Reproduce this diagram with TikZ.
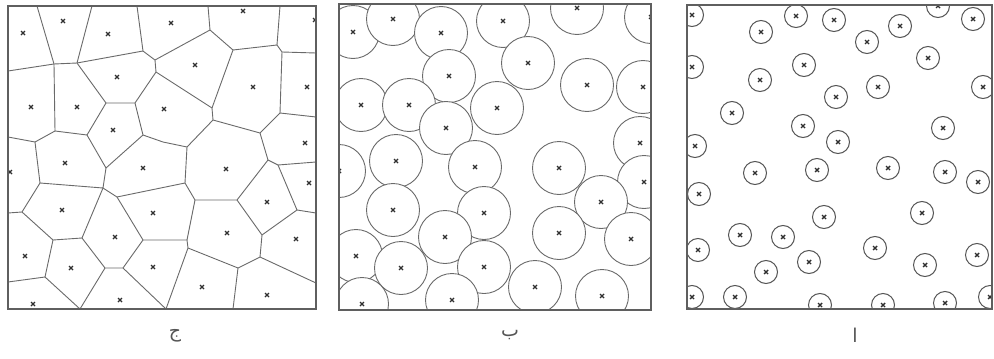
\documentclass[tikz,border=0pt]{standalone}
\usepackage{fontspec}
\newfontfamily\arabicfont[Script=Arabic]{DejaVu Sans}
\TeXXeTstate=1
\begin{document}
\begin{tikzpicture}[x=1pt,y=-1pt]
\definecolor{inkgray}{HTML}{6A6A6A}
\definecolor{dotgray}{HTML}{303030}
\tikzset{
  framebox/.style={draw=inkgray!90!black,line width=1.4pt},
  celledge/.style={draw=inkgray,line width=0.9pt,line join=round},
  bigdisc/.style={draw=inkgray,fill=white,line width=0.9pt},
  smalldisc/.style={draw=inkgray!80!black,line width=1pt},
  xm/.pic={\draw[dotgray,line width=1.4pt] (-2,-2)--(2,2) (-2,2)--(2,-2);},
  lbl/.style={text=inkgray!80!black,font=\arabicfont\fontsize{19}{21}\selectfont,inner sep=0pt}
}
\useasboundingbox (0,0) rectangle (994,359);
\fill[white] (0,0) rectangle (994,359);

% ---------- panel C (left): Voronoi cells ----------
\begin{scope}
\clip (8,6) rectangle (316,309);
\draw[celledge] (37,6)--(54,64);
\draw[celledge] (8,71)--(54,64)--(77,63)--(143,51);
\draw[celledge] (92,6)--(77,63);
\draw[celledge] (137,6)--(143,51)--(155,60)--(210,30)--(208,6);
\draw[celledge] (155,60)--(156,72)--(135,103)--(106,103)--(77,63);
\draw[celledge] (54,64)--(55,131)--(87,135)--(106,103);
\draw[celledge] (8,137)--(35,142)--(55,131);
\draw[celledge] (87,135)--(106,168)--(143,135)--(135,103);
\draw[celledge] (143,135)--(163,142)--(187,147)--(213,120)--(212,108)--(156,72);
\draw[celledge] (212,108)--(233,50)--(210,30);
\draw[celledge] (233,50)--(277,45)--(280,6);
\draw[celledge] (277,45)--(282,52)--(316,53);
\draw[celledge] (282,52)--(280,113)--(316,117);
\draw[celledge] (280,113)--(260,133)--(213,120);
\draw[celledge] (260,133)--(268,160)--(278,165)--(316,162);
\draw[celledge] (187,147)--(185,183)--(195,200)--(237,200)--(268,160);
\draw[celledge] (35,142)--(40,183)--(103,188)--(106,168);
\draw[celledge] (40,183)--(22,212)--(8,213);
\draw[celledge] (103,188)--(117,197)--(185,183);
\draw[celledge] (22,212)--(53,240)--(82,238)--(103,188);
\draw[celledge] (117,197)--(143,240)--(187,240)--(195,200);
\draw[celledge] (143,240)--(123,268)--(105,268)--(82,238);
\draw[celledge] (123,268)--(166,309);
\draw[celledge] (105,268)--(80,309);
\draw[celledge] (53,240)--(45,277)--(8,282);
\draw[celledge] (45,277)--(80,309);
\draw[celledge] (187,240)--(188,248)--(166,309);
\draw[celledge] (188,248)--(238,268)--(260,257)--(262,235)--(237,200);
\draw[celledge] (262,235)--(297,210)--(278,165);
\draw[celledge] (297,210)--(316,213);
\draw[celledge] (260,257)--(316,283);
\draw[celledge] (238,268)--(233,309);
\foreach \p in {(23,33),(63,21),(108,34),(171,23),(243,11),(315,20),(195,65),(253,87),(307,87),
  (117,77),(31,107),(77,107),(113,130),(164,109),(305,143),(10,172),(65,163),(143,168),(226,169),
  (309,183),(267,202),(62,210),(153,213),(115,237),(227,233),(296,239),(25,256),(71,268),(153,267),
  (33,304),(120,300),(202,287),(267,295)}
  \pic at \p {xm};
\end{scope}
\draw[framebox] (8,6) rectangle (316,309);

% ---------- panel B (middle): large discs ----------
\begin{scope}
\clip (339,4) rectangle (651,310);
\foreach \p in {(353,32),(393,19),(441,33),(503,21),(577,8),(651,17),(528,63),(449,76),(587,85),
  (643,87),(361,105),(409,105),(497,108),(446,128),(640,143),(339,171),(396,161),(475,167),
  (559,168),(644,182),(393,210),(484,213),(601,202),(445,237),(559,233),(631,239),(356,256),
  (401,268),(484,267),(535,287),(602,296),(362,304),(452,300)}
  \draw[bigdisc] \p circle[radius=26.5];
\foreach \p in {(353,32),(393,19),(441,33),(503,21),(577,8),(651,17),(528,63),(449,76),(587,85),
  (643,87),(361,105),(409,105),(497,108),(446,128),(640,143),(339,171),(396,161),(475,167),
  (559,168),(644,182),(393,210),(484,213),(601,202),(445,237),(559,233),(631,239),(356,256),
  (401,268),(484,267),(535,287),(602,296),(362,304),(452,300)}
  \pic at \p {xm};
\end{scope}
\draw[framebox] (339,4) rectangle (651,310);

% ---------- panel A (right): small discs ----------
\begin{scope}
\clip (687,5) rectangle (992,309);
\foreach \p in {(692,15),(796,16),(834,20),(761,32),(938,6),(973,19),(900,26),(867,42),(692,67),
  (804,65),(760,80),(928,58),(878,87),(836,97),(983,87),(732,113),(803,126),(943,128),(838,142),
  (695,146),(888,168),(755,173),(817,170),(945,172),(978,182),(699,194),(824,217),(922,213),
  (740,235),(783,237),(698,250),(875,248),(809,262),(766,272),(925,265),(977,255),(692,297),
  (735,297),(820,305),(883,305),(945,303),(990,297)}
  {\draw[smalldisc] \p circle[radius=11.5]; \pic at \p {xm};}
\end{scope}
\draw[framebox] (687,5) rectangle (992,309);

% ---------- labels ----------
\node[lbl] (labC) at (175,336) {\beginR ج\endR};
\node[lbl] (labB) at (510,335) {\beginR ب\endR};
\node[lbl] (labA) at (855,335) {\beginR ا\endR};
\end{tikzpicture}
\end{document}
